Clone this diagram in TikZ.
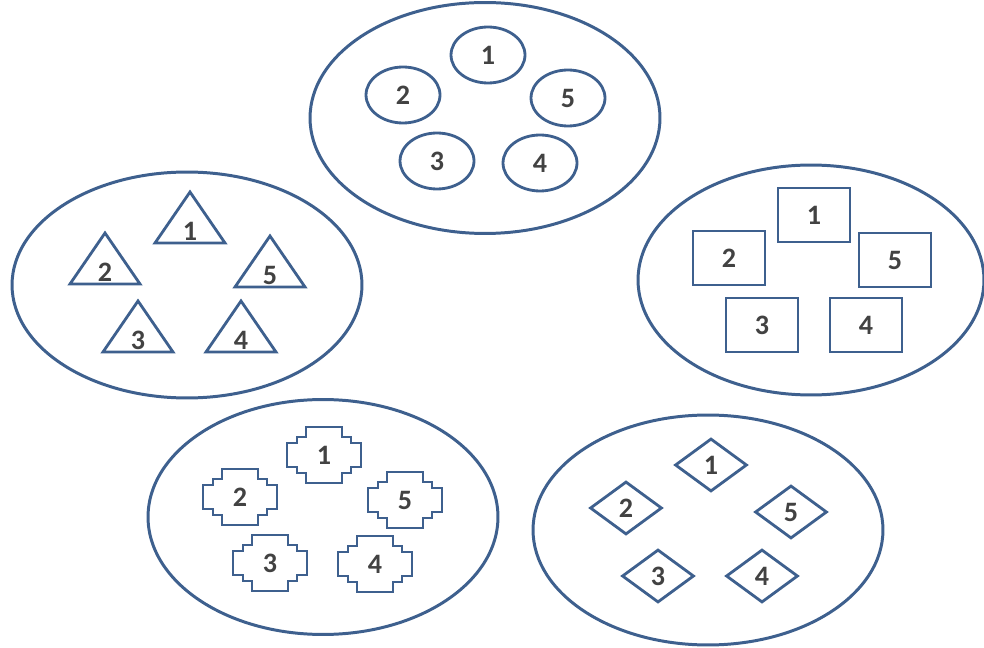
\documentclass[tikz,border=0pt]{standalone}
\usepackage{fontspec}
\setmainfont{Carlito}
\usepackage{tikz}
\usetikzlibrary{shapes.geometric}
\definecolor{shapeblue}{RGB}{62,96,142}
\definecolor{digitgray}{RGB}{66,66,66}

\begin{document}
\begin{tikzpicture}[x=0.02cm,y=-0.02cm,
  group/.style={draw=shapeblue,line width=1.7pt,ellipse,inner sep=0pt,minimum width=7cm},
  digit/.style={text=digitgray,font=\fontsize{16}{18}\selectfont\bfseries,inner sep=0pt},
  shapeline/.style={draw=shapeblue,line width=1.6pt},
  ring/.style={digit,shapeline,ellipse,minimum width=1.48cm,minimum height=1.12cm},
  squarebox/.style={digit,shapeline,rectangle,minimum width=1.44cm,minimum height=1.08cm},
  diamondbox/.style={digit,shapeline,diamond,minimum width=1.44cm,minimum height=1.06cm}]
\useasboundingbox (0,0) rectangle (984,648);
% the five groups
\node[group,minimum height=4.62cm] (circlegroup) at (485,118) {};
\node[group,minimum height=4.52cm] (trianglegroup) at (187,285) {};
\node[group,minimum width=6.92cm,minimum height=4.6cm] (squaregroup) at (811,280) {};
\node[group,minimum height=4.7cm] (crossgroup) at (323,517) {};
\node[group,minimum height=4.6cm] (diamondgroup) at (708,530) {};
% circles
\foreach \n/\x/\y in {1/488/55, 2/403/95, 5/568/98, 3/437/161, 4/540/163}
  \node[ring] (c\n) at (\x,\y) {\n};
% triangles, given by their apex
\foreach \n/\x/\y in {1/190/192, 2/105/233, 5/270/236, 3/138/301, 4/241/301}{
  \draw[shapeline,line join=miter] (\x-35,\y+51) -- (\x,\y) -- (\x+35,\y+51) -- cycle;
  \node[digit] (t\n) at (\x,\y+39) {\n};
}
% squares
\foreach \n/\x/\y in {1/814/215, 2/729/258, 5/895/260, 3/762/325, 4/866/325}
  \node[squarebox] (s\n) at (\x,\y) {\n};
% stepped crosses
\foreach \n/\x/\y in {1/324/455, 2/240/497, 5/405/500, 3/270/563, 4/375/564}{
  \node[digit] (p\n) at (\x,\y) {\n};
  \draw[shapeline] (\x-18,\y-28) -- ++(36,0) -- ++(0,10) -- ++(9,0) -- ++(0,6) -- ++(10,0)
    -- ++(0,24) -- ++(-10,0) -- ++(0,6) -- ++(-9,0) -- ++(0,10) -- ++(-36,0)
    -- ++(0,-10) -- ++(-9,0) -- ++(0,-6) -- ++(-10,0) -- ++(0,-24) -- ++(10,0)
    -- ++(0,-6) -- ++(9,0) -- cycle;
}
% diamonds
\foreach \n/\x/\y in {1/711/465, 2/626/508, 5/791/512, 3/658/576, 4/762/576}
  \node[diamondbox] (d\n) at (\x,\y) {\n};
\end{tikzpicture}
\end{document}
